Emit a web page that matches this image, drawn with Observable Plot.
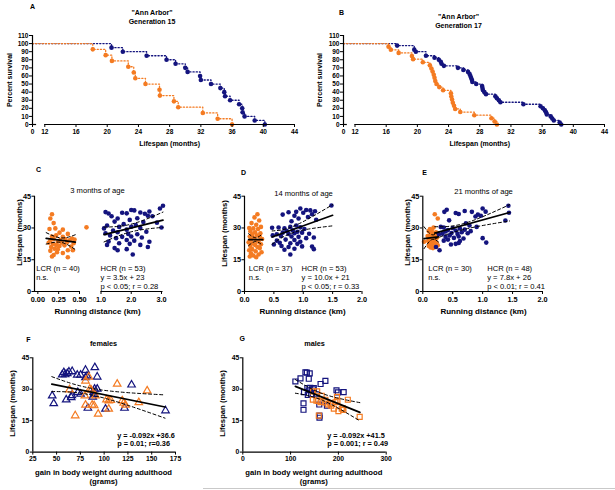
<!DOCTYPE html>
<html><head><meta charset="utf-8">
<script src="https://cdn.jsdelivr.net/npm/d3@7"></script>
<script src="https://cdn.jsdelivr.net/npm/@observablehq/plot@0.6"></script>
<style>
body{margin:0;background:#fff}
#fig{position:relative;width:615px;height:490px;overflow:hidden;background:#fff}
#sep{position:absolute;left:203px;top:487.5px;width:412px;height:1.5px;background:#c9c9c9}
</style></head><body><div id="fig"><div id="sep"></div></div>
<script>
// ---------------- DATA ----------------
const NAVY = "#14147e", ORANGE = "#f47b22";
// Survival, generation 15 (panel A)
const g15HcrT = [20.55, 22.0, 25.05, 27.6, 28.76, 30.0, 30.3, 31.9, 32.0, 33.3, 34.5, 35.0, 35.1, 35.75, 36.9, 37.3, 37.35, 37.6, 38.9, 40.2];
const g15HcrS = [95, 90, 85, 80, 75, 70, 65, 60, 55, 50, 45, 40, 35, 30, 25, 20, 15, 10, 5, 0];
const g15LcrT = [18.15, 19.8, 20.6, 22.7, 23.4, 23.6, 24.9, 26.7, 26.75, 28.55, 29.1, 32.25, 34.15, 36.0];
const g15LcrS = [92.9, 85.7, 78.6, 71.4, 64.3, 57.1, 50, 42.9, 35.7, 28.6, 21.4, 14.3, 7.1, 0];
// Survival, generation 17 (panel B)
const g17HcrT = [17.4, 19.6, 19.8, 21.1, 22.2, 22.75, 23.0, 23.1, 23.4, 25.2, 25.9, 26.5, 26.7, 26.8, 26.9, 27.0, 27.05, 27.55, 28.3, 28.35, 28.4, 28.6, 28.8, 30.0, 30.2, 30.45, 30.65, 33.6, 35.8, 36.1, 36.35, 36.5, 36.6, 37.1, 37.3, 37.5, 38.25, 38.45];
const g17HcrS = [97.5, 92.5, 90, 85, 82.5, 80, 77.5, 75, 72.5, 70, 67.5, 65, 62.5, 60, 57.5, 55, 52.5, 50, 47.5, 45, 42.5, 40, 37.5, 35, 32.5, 30, 27.5, 25, 22.5, 20, 17.5, 15, 12.5, 10, 7.5, 5, 2.5, 0];
const g17LcrT = [16.3, 16.6, 17.6, 19.3, 19.45, 20.7, 21.6, 21.8, 21.95, 22.1, 22.2, 22.3, 22.45, 22.8, 23.3, 24.3, 24.35, 24.45, 24.55, 24.7, 24.85, 25.5, 27.3, 29.5, 29.9, 30.2];
const g17LcrS = [96.2, 92.3, 88.5, 84.6, 80.8, 76.9, 73.1, 69.2, 65.4, 61.5, 57.7, 53.8, 50, 46.2, 42.3, 38.5, 34.6, 30.8, 26.9, 23.1, 19.2, 15.4, 11.5, 7.7, 3.8, 0];
const survTicksX = [0, 12, 16, 20, 24, 28, 32, 36, 40, 44];
const survTicksY = [0, 10, 20, 30, 40, 50, 60, 70, 80, 90, 100, 110];

// Running distance vs lifespan: [km, months]
const c3Lcr = [[0.14,29.5],[0.17,36.5],[0.15,34.5],[0.19,32.3],[0.21,29.8],[0.52,30.3],[0.30,29.2],[0.36,27.2],[0.26,27.8],[0.22,26.5],[0.17,26],[0.30,25.8],[0.41,25],[0.44,24.5],[0.38,24.2],[0.33,24.8],[0.27,24.3],[0.19,24.8],[0.15,24.2],[0.24,23.5],[0.29,23],[0.35,23.2],[0.43,22.8],[0.18,22.5],[0.13,23],[0.22,22],[0.26,21.5],[0.32,21.8],[0.40,21.2],[0.16,21],[0.20,20.2],[0.24,20],[0.36,19.5],[0.42,19.5],[0.15,19.2],[0.23,18.5],[0.30,18.2],[0.19,17.2],[0.17,16.5],[0.36,16.2]];
const c3Hcr = [[1.15,37.5],[1.25,36.8],[1.35,35.5],[1.55,34.5],[1.7,37.2],[1.85,36.9],[2.0,38.5],[2.1,38.3],[2.3,37.3],[2.45,36.7],[2.6,37.8],[2.7,35.5],[2.95,39.2],[3.05,40.5],[2.55,35.8],[2.2,34.6],[1.95,33.8],[1.45,33],[2.85,32.5],[2.4,32.8],[1.75,31.8],[1.2,31.2],[2.15,31.4],[1.6,30.5],[2.0,30.6],[1.1,29.8],[2.3,30],[3.0,30.2],[1.85,29.2],[1.4,28.8],[1.55,28],[2.5,28.2],[1.15,27.5],[1.9,27.2],[2.2,27],[1.3,26.5],[2.0,26],[1.7,25.8],[2.35,25.5],[1.5,25.2],[1.85,24.3],[2.1,24],[1.25,23.6],[2.6,23.5],[1.6,22.8],[1.95,22.5],[2.3,22],[1.2,22],[2.55,21],[1.45,20.5],[1.85,20],[1.55,19.5],[2.05,17.5]];
const d14Lcr = [[0.22,36.5],[0.17,35],[0.25,33.5],[0.12,32.3],[0.2,31.5],[0.28,30.5],[0.08,30],[0.15,29.8],[0.23,29.5],[0.1,28.5],[0.18,28],[0.27,27.5],[0.13,27],[0.21,26.5],[0.09,26],[0.26,25.8],[0.16,25.2],[0.3,24.8],[0.11,24.5],[0.2,24],[0.24,23.5],[0.07,23.2],[0.14,22.8],[0.28,22.3],[0.18,22],[0.1,21.5],[0.22,21],[0.26,20.5],[0.13,20],[0.08,19.5],[0.19,19],[0.29,18.5],[0.11,18],[0.24,17.5],[0.15,17],[0.09,16.5],[0.2,16.2]];
const d14Hcr = [[0.95,39.2],[1.05,38.5],[1.12,38.3],[1.2,37.9],[0.88,37.6],[0.75,37.4],[0.65,36.3],[1.0,37.2],[1.15,36.5],[0.85,35.8],[1.08,35.2],[0.92,34.5],[1.22,33.9],[0.8,33.2],[1.48,40.6],[0.58,30.2],[0.47,30.1],[0.68,29.8],[0.78,30.5],[0.88,31.2],[0.95,30.3],[1.02,29.5],[0.72,28.5],[0.82,28.9],[0.9,28.2],[0.65,27.8],[0.55,27],[0.75,27.2],[0.85,27.5],[0.98,27.8],[1.1,27.3],[0.48,26.5],[0.62,26.2],[0.8,26],[0.92,25.8],[1.05,25.2],[1.18,25.5],[0.7,24.5],[0.85,24.3],[0.95,23.5],[0.6,23],[0.78,22.8],[0.9,22.5],[1.15,21.2],[0.5,22.2],[0.63,21.5],[0.75,21],[0.98,21.3],[1.18,20],[0.68,19.7],[0.85,20.2],[0.78,17.5],[0.55,24]];
const e21Lcr = [[0.2,36.5],[0.25,34.5],[0.02,23.5],[0.18,30.2],[0.12,29.5],[0.15,29],[0.1,28.5],[0.22,28],[0.17,27.5],[0.13,27],[0.2,26.5],[0.08,26.2],[0.15,26],[0.24,25.5],[0.11,25.2],[0.18,25],[0.21,24.5],[0.14,24.2],[0.09,23.8],[0.17,23.5],[0.23,23],[0.12,22.8],[0.19,22.5],[0.15,22],[0.25,21.8],[0.1,21.5],[0.2,21.2],[0.13,20.8],[0.17,20.5],[0.22,21]];
const e21Hcr = [[1.43,40.5],[1.0,39.2],[0.4,38.6],[0.36,37.6],[0.7,38],[0.82,37.6],[1.05,37.7],[0.55,37.1],[0.6,36.6],[0.92,36.3],[0.97,35.8],[1.44,37.2],[1.38,33.5],[0.44,33.6],[0.88,35.4],[0.72,32.2],[0.78,31.2],[0.3,30.5],[0.35,30.2],[0.5,30],[0.62,29.8],[0.9,30.5],[0.7,29.2],[0.42,29],[0.55,28.8],[0.38,28.3],[0.65,28],[0.8,28.5],[0.48,27.6],[0.33,27.3],[0.58,27.2],[0.75,27.5],[0.27,27],[0.45,26.5],[0.6,26],[0.38,25.8],[0.52,25.3],[0.68,25],[1.0,25.2],[0.42,24.5],[0.62,23.8],[0.55,22.5],[0.47,22.2],[0.6,22.9],[1.06,23.1],[0.22,21],[0.28,19.5],[0.35,24]];
// Fit lines and 95% bands: [km, months]
const c3LcrFit = [[0.1,25.1],[0.45,23.3]];
const c3LcrHi = [[0.1,27.8],[0.28,25.3],[0.45,26.8]];
const c3LcrLo = [[0.1,22.4],[0.28,23.2],[0.45,19.8]];
const c3HcrFit = [[1.1,26.85],[3.05,33.7]];
const c3HcrHi = [[1.1,30.4],[2.0,31.8],[3.05,37.5]];
const c3HcrLo = [[1.1,23.4],[2.0,28.2],[3.05,30.3]];
const d14LcrFit = [[0.07,24.5],[0.31,24.5]];
const d14LcrHi = [[0.07,27.3],[0.19,25.4],[0.31,27.3]];
const d14LcrLo = [[0.07,21.7],[0.19,23.6],[0.31,21.7]];
const d14HcrFit = [[0.47,25.7],[1.5,36]];
const d14HcrHi = [[0.47,28.6],[0.85,31],[1.5,41]];
const d14HcrLo = [[0.47,22.3],[0.85,28],[1.5,31]];
const e21LcrFit = [[0.02,25],[0.26,25.8]];
const e21LcrHi = [[0.02,30.6],[0.15,26.8],[0.26,28.2]];
const e21LcrLo = [[0.02,20.2],[0.15,24.5],[0.26,23.4]];
const e21HcrFit = [[0.2,27.56],[1.45,37.3]];
const e21HcrHi = [[0.2,30.6],[0.7,32.2],[1.45,41]];
const e21HcrLo = [[0.2,24.8],[0.7,29.4],[1.45,33.3]];
const runTicksY = [0, 15, 30, 45];
const cTicksX = [0, 0.25, 0.5, 1, 2, 3];
const cTickLabels = ["0.00", "0.25", "0.50", "1.0", "2.0", "3.0"];
const deTicksX = [0, 0.5, 1, 1.5, 2];

// Weight gain vs lifespan: [grams, months]
const femHcr = [[45.4,26.9],[47,23.2],[55.9,36.9],[57.6,38],[59,37],[61.2,37.5],[63,38.3],[66.4,38.5],[71.7,36.8],[75.2,36.8],[80.4,39.1],[80.4,35.6],[82,36.3],[90.2,40.4],[92.7,35.9],[60.1,25],[65.4,26.1],[66,27],[72.3,28.5],[75.2,27.7],[89.9,30.1],[92.7,30.1],[89,28.7],[88,26.3],[89.5,27.5],[82.9,21],[101.4,20.6],[121.4,21],[128.8,32.1],[164.5,19.8]];
const femLcr = [[63.6,29.8],[69.6,17.4],[79.7,26.9],[80.4,34],[83.9,35.9],[84.9,30.1],[86.5,29.6],[80.4,22.5],[87.4,22.5],[89.5,22.2],[90.9,26.9],[93.7,18.2],[102.4,25],[104.8,24.5],[107,24.7],[104.8,20.6],[113.7,32.5],[119,24.5],[120.6,23.4],[122.4,22.5],[136.4,23.7],[145.2,29.3]];
const malHcr = [[110,33.7],[120.7,35.2],[131,38.1],[134,37.9],[140,37.6],[138,35],[135,30.6],[138,29.5],[141,30.7],[146.5,30],[148.5,30.6],[128,28.6],[143,27.6],[136,27.3],[127,23.3],[127,20.2],[162.7,32.5],[172.8,34],[160,22.7],[176,22.2],[196,29.5],[199,28.5],[211,28.6],[160.4,17.4],[160.4,16.4],[155,27.6]];
const malLcr = [[155.6,29],[147,29],[146.5,25],[154,24.6],[158,24.4],[165,26.8],[172.8,25],[162.7,23.8],[173,23.7],[178,22.8],[183.5,23.3],[185,22.2],[190.4,20.7],[193.8,23.8],[197,26.4],[198,24.6],[200,19.5],[207,20.7],[210.5,20.1],[209,21],[219.7,25],[244.5,16.8],[159,17.4]];
const femFit = [[45,32.46],[164,21.51]];
const femHi = [[45,36],[92,30],[164,27.3]];
const femLo = [[45,28.9],[92,26.7],[164,16.2]];
const malFit = [[110,31.38],[245,18.96]];
const malHi = [[110,34.6],[168,27.8],[245,23.6]];
const malLo = [[110,28.1],[168,24.6],[245,14.9]];
const femTicksX = [25, 50, 75, 100, 125, 150, 175];
const malTicksX = [0, 100, 200, 300];

// ---------------- DRAWING ----------------
const FONT = '"Liberation Sans", Arial, Helvetica, sans-serif';
const fig = document.getElementById("fig");

function panel(cfg, build) {
  const {left, top, width, height, ml, mr, mt, mb} = cfg;
  const T = (s, X, Y, o = {}) => Plot.text([s], {
    text: d => d, frameAnchor: "top-left", dx: X - left - ml, dy: Y - top - mt,
    textAnchor: "middle", lineAnchor: "middle", fill: "black", fontSize: 7, fontWeight: "bold", ...o
  });
  const svg = Plot.plot({
    width, height, marginLeft: ml, marginRight: mr, marginTop: mt, marginBottom: mb,
    x: cfg.x, y: cfg.y,
    style: {fontFamily: FONT, fontSize: "7px", background: "transparent", overflow: "visible", color: "black"},
    marks: build(T)
  });
  svg.style.position = "absolute";
  svg.style.left = left + "px";
  svg.style.top = top + "px";
  fig.appendChild(svg);
}

const pts = (a) => a.map(([x, y]) => ({x, y}));
const km = (t, s) => [{x: 0, y: 100}, ...t.map((d, i) => ({x: d, y: s[i]}))];

// broken-axis helper: value -> position on a scale whose left part (lo..brk) is compressed
const broken = (x0, brk, pxBrk, x1, pxEnd, xStart, pxStart) =>
  v => v <= brk ? pxStart + (v - xStart) * (pxBrk - pxStart) / (brk - xStart)
                : pxBrk + (v - x1) * (pxEnd - pxBrk) / (x0 - x1);

function survival(cfg, u, hT, hS, lT, lS, gen, titleX, titleY, letter, letterX, letterY, yTitleX) {
  const X = d => u(d.x);
  const labels = new Map(survTicksX.map(t => [u(t), String(t)]));
  panel(cfg, T => [
    Plot.line(km(hT, hS), {x: X, y: "y", curve: "step-after", stroke: NAVY, strokeWidth: 1.3, strokeDasharray: "1.2,2"}),
    Plot.dot(km(hT, hS).slice(1), {x: X, y: "y", r: 2.3, fill: NAVY}),
    Plot.line(km(lT, lS), {x: X, y: "y", curve: "step-after", stroke: ORANGE, strokeWidth: 1.3, strokeDasharray: "1.2,2"}),
    Plot.dot(km(lT, lS).slice(1), {x: X, y: "y", r: 2.3, fill: ORANGE}),
    Plot.ruleX([u(0)], {y1: 0, y2: 110, stroke: "black", strokeWidth: 1.2}),
    Plot.ruleY([0], {x1: u(0), x2: u(4), stroke: "black", strokeWidth: 1.2}),
    Plot.ruleY([0], {x1: u(12), x2: u(44), stroke: "black", strokeWidth: 1.2}),
    Plot.axisX(survTicksX.map(u), {tickFormat: v => labels.get(v), tickSize: 3, tickPadding: 1.5, fontSize: 6.5, fontWeight: "bold", label: null}),
    Plot.axisY({ticks: survTicksY, tickSize: 3, tickPadding: 1, fontSize: 6.5, fontWeight: "bold", label: null}),
    T(letter, letterX, letterY),
    T('"Ann Arbor"', titleX, titleY),
    T(gen, titleX, titleY + 9),
    T("Lifespan (months)", cfg.left + (u(12) + u(44)) / 2, 143.3),
    T("Percent survival", yTitleX, 79.5, {rotate: -90})
  ]);
}

// Panel A: 0 -> 32px, 12 -> 44.3px, 44 -> 294px
const uA = v => v <= 12 ? 32 + v * (12.3 / 12) : 44.3 + (v - 12) * (249.7 / 32);
survival({left: 0, top: 0, width: 300, height: 150, ml: 32, mr: 6, mt: 35, mb: 26,
  x: {domain: [32, 294]}, y: {domain: [0, 110]}}, uA,
  g15HcrT, g15HcrS, g15LcrT, g15LcrS, "Generation 15", 151.5, 12.5, "A", 32, 6, 9.5);
// Panel B: 0 -> 43px, 12 -> 54.5px, 44 -> 304px (local)
const uB = v => v <= 12 ? 43 + v * (11.5 / 12) : 54.5 + (v - 12) * (249.5 / 32);
survival({left: 300, top: 0, width: 315, height: 150, ml: 43, mr: 11, mt: 35, mb: 26,
  x: {domain: [43, 304]}, y: {domain: [0, 110]}}, uB,
  g17HcrT, g17HcrS, g17LcrT, g17LcrS, "Generation 17", 458, 16, "B", 341, 12.5, 319);

function running(cfg, u, lcr, hcr, fits, axisRules, ticksX, fmt, texts) {
  const P = a => a.map(([x, y]) => ({x: u(x), y}));
  const dsh = a => Plot.line(P(a), {x: "x", y: "y", curve: "natural", stroke: "black", strokeWidth: 1, strokeDasharray: "3,2.5"});
  const sol = a => Plot.line(P(a), {x: "x", y: "y", stroke: "black", strokeWidth: 1.7});
  const labels = new Map(ticksX.map((t, i) => [u(t), fmt(t, i)]));
  panel(cfg, T => [
    Plot.dot(P(lcr), {x: "x", y: "y", r: 2.3, fill: ORANGE}),
    Plot.dot(P(hcr), {x: "x", y: "y", r: 2.3, fill: NAVY}),
    ...fits.map(f => f[0] === "s" ? sol(f[1]) : dsh(f[1])),
    Plot.ruleX([cfg.x.domain[0]], {y1: 0, y2: 45, stroke: "black", strokeWidth: 1.2}),
    ...axisRules.map(([a, b]) => Plot.ruleY([0], {x1: u(a), x2: u(b), stroke: "black", strokeWidth: 1.2})),
    Plot.axisX(ticksX.map(u), {tickFormat: v => labels.get(v), tickSize: 3, tickPadding: 2.5, fontSize: 7.3, fontWeight: "bold", label: null}),
    Plot.axisY({ticks: runTicksY, tickSize: 2.5, tickPadding: 1, fontSize: 7.3, fontWeight: "bold", label: null}),
    ...texts(T)
  ]);
}

const normal = {fontWeight: "normal", fontSize: 7.6, textAnchor: "start"};
// Panel C: -0.04 -> 34px, 0.5 -> 79px | 1.0 -> 100.5px, 3.1 -> 164px
const uC = v => v <= 0.5 ? 34 + (v + 0.04) * (45 / 0.54) : 100.5 + (v - 1) * (63.5 / 2.1);
running({left: 0, top: 160, width: 195, height: 155, ml: 34, mr: 31, mt: 35.7, mb: 24,
  x: {domain: [34, 164]}, y: {domain: [0, 45]}}, uC,
  c3Lcr, c3Hcr,
  [["d", c3LcrHi], ["d", c3LcrLo], ["s", c3LcrFit], ["d", c3HcrHi], ["d", c3HcrLo], ["s", c3HcrFit]],
  [[-0.04, 0.5], [1, 3.05]], cTicksX, (t, i) => cTickLabels[i],
  T => [
    T("C", 38, 169),
    T("3 months of age", 97, 190, {fontWeight: "normal", fontSize: 7.6}),
    T("Lifespan (months)", 19.5, 232, {rotate: -90, fontSize: 7.7}),
    T("Running distance (km)", 97, 310.7, {fontSize: 8}),
    T("LCR (n = 40)", 35.7, 267.7, normal), T("n.s.", 35.7, 276.7, normal),
    T("HCR (n = 53)", 100, 267.7, normal), T("y = 3.5x + 23", 100, 276.7, normal),
    T("p < 0.05; r = 0.28", 100, 285.7, normal)
  ]);
const uD = v => 49 + v * (117.5 / 2);
running({left: 195, top: 160, width: 195, height: 155, ml: 49, mr: 28.5, mt: 35.7, mb: 24,
  x: {domain: [49, 166.5]}, y: {domain: [0, 45]}}, uD,
  d14Lcr, d14Hcr,
  [["d", d14LcrHi], ["d", d14LcrLo], ["s", d14LcrFit], ["d", d14HcrHi], ["d", d14HcrLo], ["s", d14HcrFit]],
  [[0, 2]], deTicksX, t => d3.format(".1f")(t),
  T => [
    T("D", 243, 172),
    T("14 months of age", 303, 193, {fontWeight: "normal", fontSize: 7.6}),
    T("Lifespan (months)", 224, 233, {rotate: -90, fontSize: 7.7}),
    T("Running distance (km)", 302, 310.7, {fontSize: 8}),
    T("LCR (n = 37)", 248.3, 268.3, normal), T("n.s.", 248.3, 277.3, normal),
    T("HCR (n = 53)", 301, 268.3, normal), T("y = 10.0x + 21", 301, 277.3, normal),
    T("p < 0.05; r = 0.33", 301, 286, normal)
  ]);
const uE = v => 32.3 + v * (119.7 / 2);
running({left: 390, top: 160, width: 225, height: 155, ml: 32.3, mr: 73, mt: 35.7, mb: 24,
  x: {domain: [32.3, 152]}, y: {domain: [0, 45]}}, uE,
  e21Lcr, e21Hcr,
  [["d", e21LcrHi], ["d", e21LcrLo], ["s", e21LcrFit], ["d", e21HcrHi], ["d", e21HcrLo], ["s", e21HcrFit]],
  [[0, 2]], deTicksX, t => d3.format(".1f")(t),
  T => [
    T("E", 424, 172),
    T("21 months of age", 483, 191, {fontWeight: "normal", fontSize: 7.6}),
    T("Lifespan (months)", 407, 232, {rotate: -90, fontSize: 7.7}),
    T("Running distance (km)", 483, 310.7, {fontSize: 8}),
    T("LCR (n = 30)", 427.7, 267.7, normal), T("n.s.", 427.7, 276.7, normal),
    T("HCR (n = 48)", 486.7, 267.7, normal), T("y = 7.8x + 26", 486.7, 276.7, normal),
    T("p < 0.01; r = 0.41", 486.7, 285.7, normal)
  ]);

const dashed = (a) => Plot.line(pts(a), {x: "x", y: "y", curve: "natural", stroke: "black", strokeWidth: 1, strokeDasharray: "3,2.5"});
const solid = (a) => Plot.line(pts(a), {x: "x", y: "y", stroke: "black", strokeWidth: 1.7});

function weight(cfg, lcr, hcr, symbol, fit, hi, lo, ticksX, texts) {
  panel(cfg, T => [
    Plot.dot(pts(hcr), {x: "x", y: "y", r: 2.8, symbol, stroke: NAVY, fill: "none", strokeWidth: 1.2}),
    Plot.dot(pts(lcr), {x: "x", y: "y", r: 2.8, symbol, stroke: ORANGE, fill: "none", strokeWidth: 1.2}),
    dashed(hi), dashed(lo), solid(fit),
    Plot.ruleX([cfg.x.domain[0]], {y1: 0, y2: 45, stroke: "black", strokeWidth: 1.2}),
    Plot.ruleY([0], {x1: cfg.x.domain[0], x2: cfg.x.domain[1], stroke: "black", strokeWidth: 1.2}),
    Plot.axisX({ticks: ticksX, tickSize: 3, tickPadding: 1.5, fontSize: 6.8, fontWeight: "bold", label: null}),
    Plot.axisY({ticks: runTicksY, tickSize: 2.5, tickPadding: 1, fontSize: 6.8, fontWeight: "bold", label: null}),
    ...texts(T)
  ]);
}

const bstart = {textAnchor: "start", fontSize: 7.3};
weight({left: 0, top: 325, width: 205, height: 165, ml: 32.3, mr: 30, mt: 32.3, mb: 38.4,
  x: {domain: [25, 175]}, y: {domain: [0, 45]}},
  femLcr, femHcr, "triangle", femFit, femHi, femLo, femTicksX,
  T => [
    T("F", 28, 339), T("females", 103, 342.7, {fontSize: 7.3}),
    T("Lifespan (months)", 11.7, 403, {rotate: -90, fontSize: 7.7}),
    T("gain in body weight during adulthood", 103, 471.7, {fontSize: 7.7}),
    T("(grams)", 103, 481, {fontSize: 7.7}),
    T("y = -0.092x +36.6", 116.7, 435, bstart), T("p = 0.01; r=0.36", 116.7, 443.3, bstart)
  ]);
weight({left: 205, top: 325, width: 205, height: 165, ml: 37.3, mr: 24.3, mt: 32.3, mb: 38.4,
  x: {domain: [0, 300]}, y: {domain: [0, 45]}},
  malLcr, malHcr, "square", malFit, malHi, malLo, malTicksX,
  T => [
    T("G", 241.7, 338.3), T("males", 314, 343.3, {fontSize: 7.3}),
    T("Lifespan (months)", 221.7, 403, {rotate: -90, fontSize: 7.7}),
    T("gain in body weight during adulthood", 313.3, 471.7, {fontSize: 7.7}),
    T("(grams)", 313.3, 481, {fontSize: 7.7}),
    T("y = -0.092x +41.5", 326.7, 435, bstart), T("p = 0.001; r = 0.49", 326.7, 443.3, bstart)
  ]);
</script></body></html>
